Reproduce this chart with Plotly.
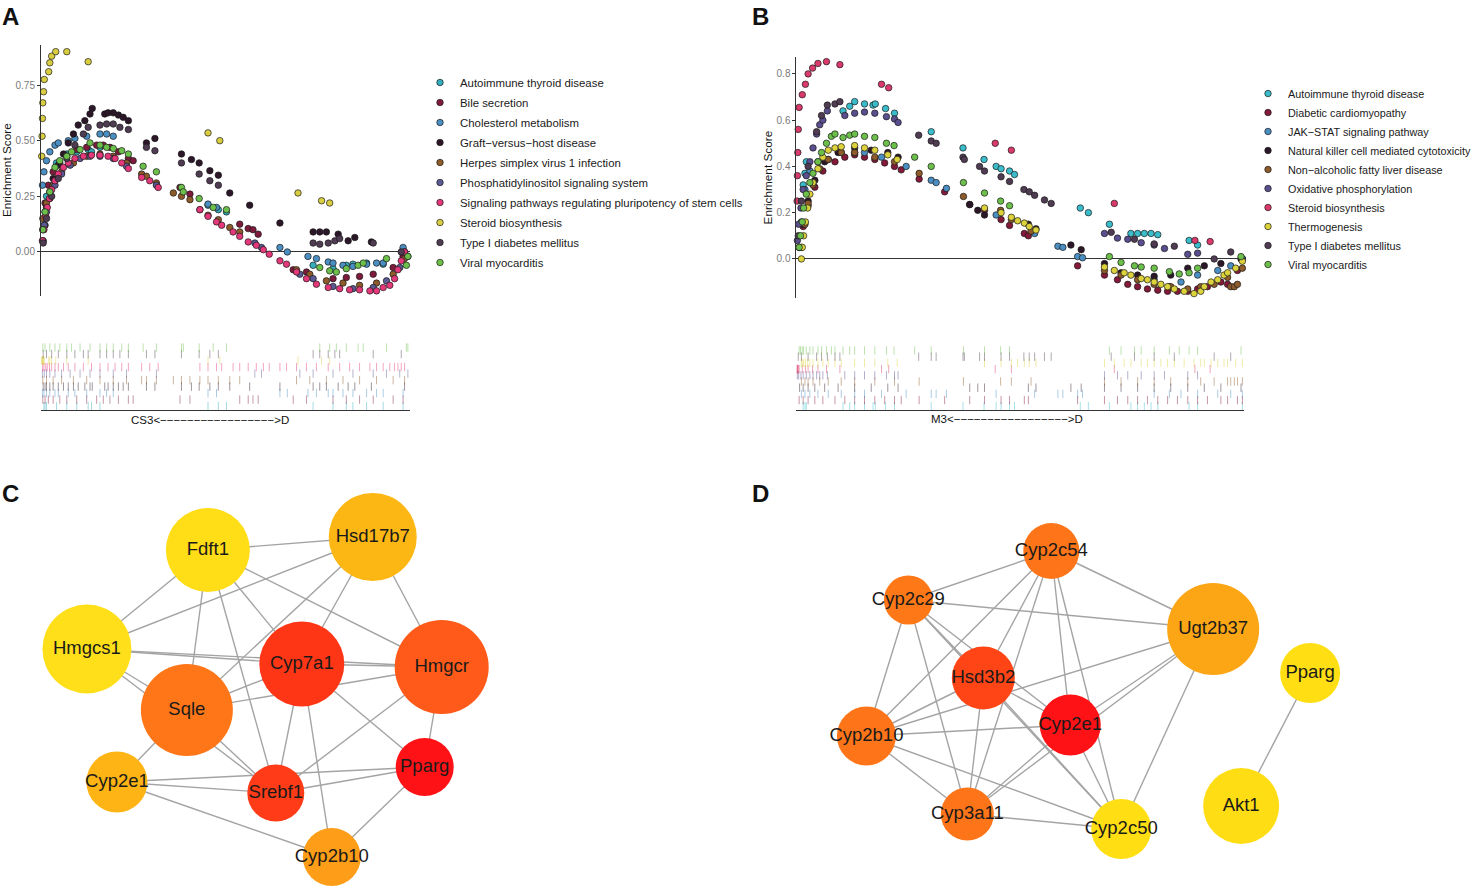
import plotly.graph_objects as go

W, H = 1477, 886

# ---------------- Panel A : GSEA (CS3 vs D) ----------------
A_NAMES = ["Autoimmune thyroid disease", "Bile secretion", "Cholesterol metabolism",
           "Graft−versus−host disease", "Herpes simplex virus 1 infection",
           "Phosphatidylinositol signaling system",
           "Signaling pathways regulating pluripotency of stem cells",
           "Steroid biosynthesis", "Type I diabetes mellitus", "Viral myocarditis"]

A_AUTO_X = [0.8, 1.1, 1.5, 4.2, 7.0, 9.7, 12.8, 13.7, 16.0, 45.3, 48.1, 50.3, 73.8, 79.2, 82.8, 84.6, 88.3, 92.8, 98.2]
A_AUTO_Y = [0.12, 0.18, 0.25, 0.40, 0.44, 0.45, 0.46, 0.45, 0.47, 0.21, 0.19, 0.18, -0.06, -0.075, -0.06, -0.055, -0.05, -0.055, 0.01]

A_BILE_X = [0.5, 1.1, 2.0, 3.3, 5.1, 7.0, 9.7, 12.4, 15.1, 16.9, 18.7, 21.0, 23.7, 25.0, 37.7, 40.4, 53.9, 56.2, 57.5, 58.9, 68.4, 72.0, 79.2, 82.8, 86.4, 90.1, 95.5, 98.2]
A_BILE_Y = [0.10, 0.22, 0.30, 0.36, 0.40, 0.43, 0.46, 0.47, 0.48, 0.48, 0.47, 0.45, 0.42, 0.41, 0.29, 0.26, 0.125, 0.105, 0.10, 0.08, -0.08, -0.09, -0.12, -0.115, -0.11, -0.10, -0.07, -0.02]

A_CHOL_X = [0.4, 0.8, 1.5, 2.4, 3.8, 4.7, 7.4, 9.2, 12.4, 16.0, 17.8, 19.6, 45.3, 47.6, 64.8, 66.8, 72.4, 74.7, 77.9, 79.2, 81.9, 84.6, 88.3, 91.0, 92.8, 98.2]
A_CHOL_Y = [0.30, 0.36, 0.41, 0.45, 0.48, 0.49, 0.50, 0.51, 0.52, 0.53, 0.53, 0.52, 0.215, 0.20, 0.02, 0.0, -0.02, -0.03, -0.045, -0.05, -0.06, -0.065, -0.055, -0.05, -0.05, 0.02]

A_GRAFT_X = [0.6, 1.1, 1.5, 2.4, 3.3, 4.7, 6.1, 7.4, 8.8, 10.1, 11.9, 13.3, 13.9, 17.3, 18.2, 19.6, 21.0, 22.3, 23.7, 28.6, 30.9, 38.1, 40.8, 42.9, 45.8, 48.1, 51.2, 56.6, 64.8, 73.8, 75.6, 77.4, 80.6, 83.3, 85.1, 89.6, 98.6]
A_GRAFT_Y = [0.05, 0.12, 0.20, 0.27, 0.33, 0.39, 0.44, 0.49, 0.53, 0.57, 0.59, 0.62, 0.645, 0.62, 0.625, 0.625, 0.615, 0.605, 0.59, 0.49, 0.51, 0.44, 0.415, 0.40, 0.365, 0.345, 0.265, 0.21, 0.13, 0.09, 0.09, 0.09, 0.08, 0.05, 0.065, 0.045, 0.0]

A_HERPES_X = [0.5, 1.5, 3.3, 5.6, 8.8, 12.4, 16.0, 19.6, 23.2, 27.3, 28.6, 31.3, 35.9, 38.1, 40.4, 43.1, 45.3, 48.1, 51.2, 53.9, 69.3, 72.9, 77.4, 81.9, 86.4, 91.0, 95.5, 98.6]
A_HERPES_Y = [0.15, 0.22, 0.30, 0.36, 0.40, 0.43, 0.44, 0.43, 0.40, 0.35, 0.34, 0.31, 0.265, 0.25, 0.235, 0.19, 0.165, 0.145, 0.11, 0.09, -0.08, -0.10, -0.13, -0.14, -0.15, -0.14, -0.10, -0.03]

A_PHOS_X = [0.4, 0.9, 1.5, 2.4, 3.8, 5.6, 7.9, 10.6, 13.3, 16.0, 19.6, 23.2, 31.3, 58.0, 59.8, 70.2, 73.8, 79.2, 84.6, 90.1, 93.7, 97.3, 99.5]
A_PHOS_Y = [0.05, 0.12, 0.18, 0.24, 0.30, 0.35, 0.39, 0.42, 0.43, 0.43, 0.42, 0.385, 0.30, 0.04, 0.02, -0.10, -0.12, -0.155, -0.165, -0.16, -0.13, -0.07, -0.02]

A_SIGNAL_X = [0.45, 0.8, 1.3, 1.7, 2.3, 2.9, 3.8, 4.7, 6.1, 7.4, 9.2, 11.5, 13.7, 16.0, 18.2, 20.1, 21.9, 23.7, 27.3, 29.5,
              31.8, 43.1, 45.3, 47.6, 49.0, 52.1, 53.9, 56.2, 58.4, 60.3, 61.9, 64.8, 66.6, 69.3, 72.0, 74.7, 77.9, 81.0, 83.7, 86.4,
              89.2, 91.0, 92.8, 94.6, 95.9, 96.8, 97.7, 98.6]
A_SIGNAL_Y = [0.05, 0.10, 0.16, 0.20, 0.24, 0.28, 0.32, 0.35, 0.38, 0.40, 0.42, 0.43, 0.435, 0.435, 0.43, 0.42, 0.40, 0.375, 0.335, 0.32,
              0.29, 0.19, 0.16, 0.135, 0.12, 0.09, 0.07, 0.045, 0.03, 0.01, -0.01, -0.04, -0.055, -0.09, -0.12, -0.145, -0.16, -0.165, -0.17, -0.17,
              -0.175, -0.175, -0.16, -0.15, -0.12, -0.08, -0.04, 0.0]

A_STEROID_X = [0.2, 0.3, 0.4, 0.5, 0.7, 0.9, 2.1, 2.4, 2.9, 4.0, 7.0, 12.8, 45.3, 48.5, 69.7, 76.1, 78.3]
A_STEROID_Y = [0.43, 0.52, 0.60, 0.67, 0.72, 0.775, 0.81, 0.85, 0.88, 0.90, 0.90, 0.855, 0.535, 0.50, 0.265, 0.23, 0.22]

A_TYPE1_X = [0.6, 1.5, 2.9, 4.7, 7.0, 9.2, 11.5, 12.8, 16.0, 17.8, 19.6, 21.4, 23.7, 28.6, 30.9, 38.1, 42.9, 45.8, 48.1, 73.8, 75.6, 77.9, 79.7, 81.0, 90.1, 97.7]
A_TYPE1_Y = [0.04, 0.15, 0.25, 0.33, 0.42, 0.48, 0.53, 0.56, 0.57, 0.575, 0.575, 0.56, 0.55, 0.47, 0.455, 0.40, 0.35, 0.32, 0.30, 0.04, 0.035, 0.04, 0.05, 0.06, 0.04, 0.0]

A_VIRAL_X = [0.5, 1.1, 2.4, 3.8, 5.1, 7.0, 8.3, 10.6, 13.3, 16.0, 17.8, 19.6, 21.9, 23.7, 27.7, 31.3, 38.1, 38.6, 42.9, 46.7, 50.3, 75.6, 78.3, 80.1, 82.8, 86.0, 87.4, 93.7, 99.1, 99.5]
A_VIRAL_Y = [0.10, 0.18, 0.27, 0.38, 0.41, 0.43, 0.45, 0.46, 0.49, 0.48, 0.47, 0.465, 0.455, 0.44, 0.385, 0.36, 0.29, 0.27, 0.24, 0.20, 0.19, -0.07, -0.085, -0.09, -0.075, -0.06, -0.05, -0.03, -0.06, -0.02]

A_XS = [A_AUTO_X, A_BILE_X, A_CHOL_X, A_GRAFT_X, A_HERPES_X, A_PHOS_X, A_SIGNAL_X, A_STEROID_X, A_TYPE1_X, A_VIRAL_X]
A_YS = [A_AUTO_Y, A_BILE_Y, A_CHOL_Y, A_GRAFT_Y, A_HERPES_Y, A_PHOS_Y, A_SIGNAL_Y, A_STEROID_Y, A_TYPE1_Y, A_VIRAL_Y]
A_COLORS = ["#35AEBE", "#7E1A3C", "#4A8EC2", "#2B1728", "#8E5B2A", "#5B5A94", "#E5387A", "#D9CE42", "#503C52", "#6CBF4B"]
A_TICKS = [0, 0.25, 0.5, 0.75]
A_TICKTEXT = ["0.00", "0.25", "0.50", "0.75"]
A_XLABEL = "CS3<" + "−" * 17 + ">D"

# ---------------- Panel B : GSEA (M3 vs D) ----------------
B_NAMES = ["Autoimmune thyroid disease", "Diabetic cardiomyopathy", "JAK−STAT signaling pathway",
           "Natural killer cell mediated cytotoxicity", "Non−alcoholic fatty liver disease",
           "Oxidative phosphorylation", "Steroid biosynthesis", "Thermogenesis",
           "Type I diabetes mellitus", "Viral myocarditis"]

B_AUTO_X = [1.5, 1.9, 2.2, 10.4, 11.9, 13.0, 15.2, 17.1, 17.6, 19.9, 21.9, 30.1, 37.2, 41.9, 44.6, 45.7, 47.6, 48.7, 63.4, 65.2, 69.9, 74.7, 76.2, 77.7, 79.2, 80.7, 87.7, 89.6, 99.6]
B_AUTO_Y = [0.32, 0.37, 0.42, 0.64, 0.66, 0.68, 0.67, 0.665, 0.67, 0.65, 0.63, 0.55, 0.48, 0.43, 0.40, 0.39, 0.38, 0.365, 0.22, 0.20, 0.15, 0.11, 0.11, 0.11, 0.11, 0.105, 0.08, 0.06, 0.0]

B_DIAB_X = [0.6, 1.5, 2.6, 4.1, 5.9, 8.6, 10.8, 13.0, 15.2, 17.5, 19.7, 21.9, 23.4, 27.4, 33.1, 38.7, 42.0, 45.7, 47.6, 50.9, 51.8, 62.8, 68.8, 71.7, 74.0, 76.2, 78.4, 80.7, 82.9, 85.1, 87.4, 89.6, 91.8, 94.8, 96.3, 98.5, 99.6]
B_DIAB_Y = [0.05, 0.14, 0.23, 0.31, 0.38, 0.42, 0.44, 0.45, 0.44, 0.43, 0.415, 0.40, 0.385, 0.345, 0.29, 0.235, 0.21, 0.17, 0.145, 0.11, 0.10, -0.03, -0.07, -0.09, -0.11, -0.12, -0.13, -0.135, -0.14, -0.14, -0.14, -0.13, -0.12, -0.10, -0.11, -0.05, 0.0]

B_JAK_X = [1.1, 1.9, 3.0, 4.8, 7.1, 10.0, 13.0, 15.2, 19.0, 24.5, 30.1, 31.2, 33.5, 44.6, 53.2, 58.4, 59.5, 62.8, 63.9, 79.9, 83.3, 85.9, 89.6, 94.1, 97.0, 99.6]
B_JAK_Y = [0.16, 0.30, 0.38, 0.42, 0.43, 0.46, 0.46, 0.46, 0.44, 0.40, 0.34, 0.33, 0.305, 0.19, 0.11, 0.055, 0.05, 0.01, 0.005, -0.09, -0.12, -0.10, -0.07, -0.05, -0.03, 0.0]

B_NK_X = [0.7, 1.5, 2.6, 4.1, 6.3, 9.3, 13.0, 16.7, 20.4, 22.7, 38.7, 40.5, 42.0, 51.8, 53.5, 61.3, 63.6, 68.8, 72.5, 76.2, 79.9, 83.6, 87.4, 91.1, 94.8, 99.3]
B_NK_Y = [0.05, 0.15, 0.25, 0.34, 0.42, 0.46, 0.48, 0.47, 0.46, 0.44, 0.235, 0.21, 0.19, 0.15, 0.13, 0.06, 0.04, -0.02, -0.06, -0.07, -0.075, -0.07, -0.04, -0.03, -0.02, 0.0]

B_NAFLD_X = [1.1, 1.9, 2.6, 3.7, 5.2, 7.1, 10.0, 13.0, 17.5, 21.9, 27.4, 37.3, 45.6, 48.0, 52.4, 68.8, 72.5, 76.2, 79.9, 83.6, 87.4, 90.3, 93.3, 96.3, 97.0, 97.8, 98.5, 99.6]
B_NAFLD_Y = [0.05, 0.15, 0.24, 0.32, 0.39, 0.43, 0.46, 0.46, 0.44, 0.42, 0.37, 0.27, 0.21, 0.17, 0.12, -0.05, -0.07, -0.09, -0.11, -0.12, -0.13, -0.12, -0.11, -0.08, -0.12, -0.12, -0.11, -0.04]

B_OXPHOS_X = [0.2, 0.5, 1.0, 1.5, 2.2, 3.0, 3.7, 4.5, 5.2, 5.9, 6.9, 10.8, 13.0, 15.2, 17.5, 20.1, 21.9, 22.7, 68.8, 71.7, 74.0, 77.0, 79.9, 82.2, 87.4, 89.6]
B_OXPHOS_Y = [0.08, 0.15, 0.22, 0.30, 0.36, 0.42, 0.48, 0.54, 0.58, 0.60, 0.64, 0.62, 0.63, 0.635, 0.63, 0.615, 0.605, 0.59, 0.11, 0.09, 0.085, 0.07, 0.06, 0.045, 0.02, 0.025]

B_STEROID_X = [0.15, 0.2, 0.3, 0.4, 0.6, 1.3, 2.0, 2.6, 3.6, 4.8, 6.7, 9.7, 19.0, 20.6, 44.4, 48.0, 71.0, 89.0, 92.4]
B_STEROID_Y = [0.25, 0.36, 0.46, 0.56, 0.655, 0.71, 0.755, 0.80, 0.825, 0.845, 0.853, 0.84, 0.755, 0.74, 0.50, 0.47, 0.24, 0.08, 0.075]

B_THERMO_X = [1.1, 1.3, 1.6, 2.0, 2.5, 3.0, 3.7, 4.8, 5.9, 7.1, 8.6, 10.0, 13.0, 15.2, 17.5, 20.4, 22.5, 42.0, 45.7, 48.0,
              49.4, 50.9, 52.0, 53.5, 68.8, 71.0, 73.2, 74.7, 77.0, 78.4, 79.9, 81.4, 82.9, 84.4, 86.6, 88.8, 90.3, 91.1, 92.6, 94.1,
              95.5, 96.3, 98.1, 99.6]
B_THERMO_Y = [0.0, 0.05, 0.10, 0.16, 0.22, 0.28, 0.33, 0.39, 0.44, 0.47, 0.48, 0.485, 0.49, 0.48, 0.47, 0.45, 0.43, 0.22, 0.20, 0.18,
              0.165, 0.155, 0.14, 0.125, -0.035, -0.05, -0.06, -0.07, -0.085, -0.09, -0.10, -0.11, -0.12, -0.13, -0.14, -0.15, -0.14, -0.12, -0.10, -0.09,
              -0.07, -0.06, -0.04, -0.01]

B_TYPE1_X = [0.4, 1.1, 2.6, 4.5, 5.6, 6.9, 8.6, 9.7, 27.3, 30.1, 31.2, 37.2, 37.5, 40.9, 42.0, 45.7, 47.6, 50.8, 52.0, 53.2, 55.4, 56.9, 70.3, 75.5, 79.9, 84.4, 93.3, 97.0]
B_TYPE1_Y = [0.10, 0.25, 0.40, 0.55, 0.62, 0.665, 0.67, 0.68, 0.535, 0.51, 0.50, 0.44, 0.43, 0.40, 0.38, 0.355, 0.335, 0.30, 0.29, 0.275, 0.255, 0.24, 0.115, 0.085, 0.065, 0.055, 0.0, 0.03]

B_VIRAL_X = [0.6, 0.9, 1.3, 1.6, 2.2, 3.0, 3.7, 4.8, 5.6, 6.7, 7.8, 8.6, 10.4, 11.9, 13.0, 15.2, 17.5, 20.1, 21.8, 26.4,
             30.1, 37.3, 42.0, 45.6, 47.6, 69.9, 72.5, 75.5, 77.0, 79.9, 83.3, 85.5, 87.7, 89.6, 99.3]
B_VIRAL_Y = [0.05, 0.10, 0.16, 0.22, 0.28, 0.33, 0.37, 0.42, 0.46, 0.50, 0.53, 0.54, 0.525, 0.535, 0.54, 0.53, 0.525, 0.50, 0.49, 0.44,
             0.40, 0.33, 0.285, 0.25, 0.23, 0.01, -0.015, -0.03, -0.035, -0.04, -0.055, -0.065, -0.06, -0.04, 0.01]

B_XS = [B_AUTO_X, B_DIAB_X, B_JAK_X, B_NK_X, B_NAFLD_X, B_OXPHOS_X, B_STEROID_X, B_THERMO_X, B_TYPE1_X, B_VIRAL_X]
B_YS = [B_AUTO_Y, B_DIAB_Y, B_JAK_Y, B_NK_Y, B_NAFLD_Y, B_OXPHOS_Y, B_STEROID_Y, B_THERMO_Y, B_TYPE1_Y, B_VIRAL_Y]
B_COLORS = ["#3BBCCB", "#84193A", "#4A8EC2", "#2B1728", "#8E5B2A", "#5B4E8E", "#DA3A6B", "#DCD23C", "#503C52", "#6CBF4B"]
B_TICKS = [0, 0.2, 0.4, 0.6, 0.8]
B_TICKTEXT = ["0.0", "0.2", "0.4", "0.6", "0.8"]
B_XLABEL = "M3<" + "−" * 17 + ">D"

# ---------------- Panel C : PPI network ----------------
C_NODES = ["Fdft1", "Hsd17b7", "Hmgcs1", "Cyp7a1", "Hmgcr", "Sqle", "Pparg", "Srebf1", "Cyp2e1", "Cyp2b10"]
C_POS_X = [208, 373, 87, 302, 442, 187, 425, 276, 117, 332]
C_POS_Y = [550, 537, 649, 664, 667, 710, 767, 793, 782, 857]
C_SIZE = [84, 88, 89, 85, 94, 92, 58, 57, 61, 58]
C_COLOR = ["#FFDD17", "#FDB714", "#FFDF1A", "#FF3616", "#FF5A1A", "#FF7618", "#FF1216", "#FF3C17", "#FDB414", "#FE9D17"]
C_EDGES = [("Fdft1", "Hsd17b7"), ("Fdft1", "Hmgcs1"), ("Fdft1", "Sqle"), ("Fdft1", "Srebf1"), ("Fdft1", "Cyp7a1"),
           ("Fdft1", "Hmgcr"), ("Hsd17b7", "Hmgcs1"), ("Hsd17b7", "Sqle"), ("Hsd17b7", "Cyp7a1"), ("Hsd17b7", "Hmgcr"),
           ("Hmgcs1", "Cyp7a1"), ("Hmgcs1", "Hmgcr"), ("Hmgcs1", "Sqle"), ("Hmgcs1", "Srebf1"),
           ("Cyp7a1", "Hmgcr"), ("Cyp7a1", "Sqle"), ("Cyp7a1", "Srebf1"), ("Cyp7a1", "Cyp2b10"), ("Cyp7a1", "Pparg"),
           ("Hmgcr", "Sqle"), ("Hmgcr", "Pparg"), ("Hmgcr", "Srebf1"), ("Sqle", "Srebf1"), ("Sqle", "Cyp2e1"),
           ("Cyp2e1", "Srebf1"), ("Cyp2e1", "Pparg"), ("Cyp2e1", "Cyp2b10"), ("Srebf1", "Pparg"), ("Pparg", "Cyp2b10")]

# ---------------- Panel D : PPI network ----------------
D_NODES = ["Cyp2c54", "Cyp2c29", "Hsd3b2", "Cyp2e1", "Cyp2b10", "Cyp3a11", "Cyp2c50", "Ugt2b37", "Pparg", "Akt1"]
D_POS_X = [1052, 909, 984, 1071, 867, 968, 1122, 1214, 1311, 1242]
D_POS_Y = [551, 600, 678, 725, 736, 814, 829, 629, 673, 806]
D_SIZE = [56, 49, 63, 61, 59, 53, 60, 92, 60, 76]
D_COLOR = ["#FE7418", "#FE7818", "#FF4516", "#FF1216", "#FE7418", "#FE7418", "#FFDF13", "#FCA615", "#FFDF14", "#FFDD14"]
D_EDGES = [("Cyp2c54", "Cyp2c29"), ("Cyp2c54", "Ugt2b37"), ("Cyp2c54", "Cyp2b10"), ("Cyp2c54", "Hsd3b2"),
           ("Cyp2c54", "Cyp3a11"), ("Cyp2c54", "Cyp2e1"), ("Cyp2c54", "Cyp2c50"),
           ("Cyp2c29", "Ugt2b37"), ("Cyp2c29", "Hsd3b2"), ("Cyp2c29", "Cyp2e1"), ("Cyp2c29", "Cyp2c50"),
           ("Cyp2c29", "Cyp2b10"), ("Cyp2c29", "Cyp3a11"),
           ("Hsd3b2", "Cyp2b10"), ("Hsd3b2", "Cyp3a11"), ("Hsd3b2", "Cyp2e1"), ("Hsd3b2", "Cyp2c50"),
           ("Cyp2e1", "Cyp2b10"), ("Cyp2e1", "Ugt2b37"), ("Cyp2e1", "Cyp3a11"), ("Cyp2e1", "Cyp2c50"),
           ("Cyp2b10", "Cyp3a11"), ("Cyp2b10", "Cyp2c50"), ("Cyp2b10", "Ugt2b37"),
           ("Cyp3a11", "Cyp2c50"), ("Cyp3a11", "Ugt2b37"), ("Cyp2c50", "Ugt2b37"), ("Pparg", "Akt1")]

FONT = "Arial, Liberation Sans, sans-serif"


def hex_rgba(h, a):
    h = h.lstrip("#")
    return "rgba(%d,%d,%d,%.2f)" % (int(h[0:2], 16), int(h[2:4], 16), int(h[4:6], 16), a)


def px_x(p):
    return p / W


def px_y(p):
    return 1 - p / H


fig = go.Figure()


def add_gsea(names, xs, ys, colors, xa, ya, xr, yr, legend):
    for nm, x, y, c in zip(names, xs, ys, colors):
        fig.add_trace(go.Scatter(
            x=x, y=y, mode="markers", name=nm, legend=legend, legendgroup=legend + nm,
            marker=dict(size=6.5, color=c, line=dict(width=0.7, color="#1a1a1a")),
            xaxis=xa, yaxis=ya, cliponaxis=False, hoverinfo="skip"))
    for i, (x, c) in enumerate(zip(xs, colors)):
        fig.add_trace(go.Scatter(
            x=x, y=[i] * len(x), mode="markers", showlegend=False,
            marker=dict(symbol="line-ns", size=6, line=dict(width=1.0, color=hex_rgba(c, 0.45))),
            xaxis=xr, yaxis=yr, cliponaxis=False, hoverinfo="skip"))


add_gsea(A_NAMES, A_XS, A_YS, A_COLORS, "x", "y", "x2", "y2", "legend")
add_gsea(B_NAMES, B_XS, B_YS, B_COLORS, "x3", "y3", "x4", "y4", "legend2")


def add_network(nodes, px, py, sizes, colors, edges):
    idx = {n: i for i, n in enumerate(nodes)}
    ex, ey = [], []
    for a, b in edges:
        ex += [px[idx[a]], px[idx[b]], None]
        ey += [py[idx[a]], py[idx[b]], None]
    fig.add_trace(go.Scatter(x=ex, y=ey, mode="lines", showlegend=False,
                             line=dict(color="#a4a4a4", width=1.4),
                             xaxis="x5", yaxis="y5", hoverinfo="skip", cliponaxis=False))
    fig.add_trace(go.Scatter(x=px, y=py, mode="markers+text", text=nodes, showlegend=False,
                             textposition="middle center",
                             textfont=dict(family=FONT, size=18.5, color="#1a1a1a"),
                             marker=dict(size=sizes, color=colors, line=dict(width=0), opacity=1),
                             xaxis="x5", yaxis="y5", hoverinfo="skip", cliponaxis=False))


add_network(C_NODES, C_POS_X, C_POS_Y, C_SIZE, C_COLOR, C_EDGES)
add_network(D_NODES, D_POS_X, D_POS_Y, D_SIZE, D_COLOR, D_EDGES)

axis_line = "#333333"
hidden = dict(visible=False, showgrid=False, zeroline=False)


def es_yaxis(dom, rng, tv, tt):
    return dict(domain=dom, range=rng, showgrid=False, showline=True, linecolor=axis_line, linewidth=1,
                zeroline=True, zerolinecolor=axis_line, zerolinewidth=1,
                tickvals=tv, ticktext=tt, ticks="outside", ticklen=3, tickcolor=axis_line,
                tickfont=dict(family=FONT, size=10, color="#7a7a7a"), fixedrange=True)


def rug_xaxis(dom, anchor):
    return dict(domain=dom, range=[0, 100], showgrid=False, zeroline=False, showline=True,
                linecolor=axis_line, linewidth=1, ticks="", showticklabels=False, anchor=anchor)


domA = [px_x(41), px_x(410)]
domB = [px_x(797), px_x(1245)]

fig.update_layout(
    width=W, height=H, margin=dict(l=0, r=0, t=0, b=0),
    paper_bgcolor="white", plot_bgcolor="rgba(0,0,0,0)",
    font=dict(family=FONT, color="#1a1a1a"),
    xaxis=dict(domain=domA, range=[0, 100], anchor="y", **hidden),
    yaxis=es_yaxis([px_y(296), px_y(45)], [-0.198, 0.93], A_TICKS, A_TICKTEXT) | dict(anchor="x"),
    xaxis2=rug_xaxis(domA, "y2"),
    yaxis2=dict(domain=[px_y(410), px_y(345)], range=[-0.6, 9.4], anchor="x2", **hidden),
    xaxis3=dict(domain=domB, range=[0, 100], anchor="y3", **hidden),
    yaxis3=es_yaxis([px_y(298), px_y(57)], [-0.169, 0.873], B_TICKS, B_TICKTEXT) | dict(anchor="x3"),
    xaxis4=rug_xaxis(domB, "y4"),
    yaxis4=dict(domain=[px_y(410), px_y(348)], range=[-0.6, 9.4], anchor="x4", **hidden),
    xaxis5=dict(domain=[0, 1], range=[0, W], anchor="y5", **hidden),
    yaxis5=dict(domain=[0, 1], range=[H, 0], anchor="x5", **hidden),
    legend=dict(x=px_x(420), y=px_y(68), xanchor="left", yanchor="top", bgcolor="rgba(0,0,0,0)",
                font=dict(family=FONT, size=11.4, color="#1a1a1a"), tracegroupgap=1, itemclick=False),
    legend2=dict(x=px_x(1249), y=px_y(79), xanchor="left", yanchor="top", bgcolor="rgba(0,0,0,0)",
                 font=dict(family=FONT, size=10.8, color="#1a1a1a"), tracegroupgap=0, itemclick=False),
    showlegend=True,
)

annos = [
    dict(text="<b>A</b>", x=px_x(0), y=px_y(1), xanchor="left", yanchor="top", font=dict(size=24)),
    dict(text="<b>B</b>", x=px_x(751), y=px_y(1), xanchor="left", yanchor="top", font=dict(size=24)),
    dict(text="<b>C</b>", x=px_x(0), y=px_y(478), xanchor="left", yanchor="top", font=dict(size=24)),
    dict(text="<b>D</b>", x=px_x(751), y=px_y(478), xanchor="left", yanchor="top", font=dict(size=24)),
    dict(text="Enrichment Score", x=px_x(7), y=px_y(170), textangle=-90, xanchor="center", yanchor="middle",
         font=dict(size=11.8)),
    dict(text="Enrichment Score", x=px_x(769), y=px_y(177), textangle=-90, xanchor="center", yanchor="middle",
         font=dict(size=11.8)),
    dict(text=A_XLABEL, x=px_x(210), y=px_y(420), xanchor="center", yanchor="middle", font=dict(size=11.5)),
    dict(text=B_XLABEL, x=px_x(1008), y=px_y(419), xanchor="center", yanchor="middle", font=dict(size=11.5)),
]
for a in annos:
    a.update(xref="paper", yref="paper", showarrow=False)
    a["font"] = dict(family=FONT, color="#111111", **a["font"])
fig.update_layout(annotations=annos)

fig.write_html("out.html", config={"displayModeBar": False, "staticPlot": True},
               post_script="document.documentElement.style.margin='0px';document.body.style.margin='0px';"
                           "document.documentElement.style.overflow='hidden';document.body.style.overflow='hidden';")
